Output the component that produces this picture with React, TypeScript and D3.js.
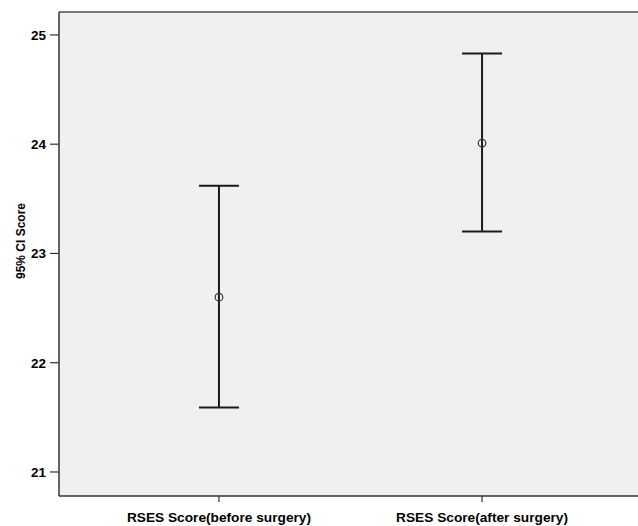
import React from "react";
import * as d3 from "d3";

const categories = ["RSES Score(before surgery)", "RSES Score(after surgery)"];
const means = [22.6, 24.01];
const upper = [23.62, 24.83];
const lower = [21.59, 23.2];
const yTicks = [21, 22, 23, 24, 25];

const sizing = { width: 638, height: 526, left: 59, top: 12, right: 642, bottom: 496 };

const tickStyle = {
  fontFamily: "Arial, 'Liberation Sans', sans-serif",
  fontSize: "13.5px",
  fontWeight: "bold" as const,
  fill: "#000",
};

function App() {
  const x = d3
    .scalePoint<string>()
    .domain(categories)
    .range([sizing.left, sizing.right])
    .padding(0.608);

  const y = d3
    .scaleLinear()
    .domain([20.78, 25.21])
    .range([sizing.bottom, sizing.top]);

  const capHalf = 20;

  const bars = categories.map((c, i) => {
    const cx = x(c) as number;
    return (
      <g key={`bar${i}`} stroke="#1a1a1a" fill="none">
        <line x1={cx} x2={cx} y1={y(upper[i])} y2={y(lower[i])} strokeWidth={2} />
        <line x1={cx - capHalf} x2={cx + capHalf} y1={y(upper[i])} y2={y(upper[i])} strokeWidth={2} />
        <line x1={cx - capHalf} x2={cx + capHalf} y1={y(lower[i])} y2={y(lower[i])} strokeWidth={2} />
        <circle cx={cx} cy={y(means[i])} r={3.8} fill="none" strokeWidth={1.2} stroke="#333" />
      </g>
    );
  });

  return (
    <svg
      width={sizing.width}
      height={sizing.height}
      style={{ position: "absolute", left: 0, top: 0 }}
    >
      <rect width={sizing.width} height={sizing.height} fill="#fff" />
      <rect
        x={sizing.left}
        y={sizing.top}
        width={sizing.right - sizing.left}
        height={sizing.bottom - sizing.top}
        fill="#f0f0f0"
      />
      {/* frame */}
      <line x1={sizing.left} x2={sizing.width} y1={sizing.top} y2={sizing.top} stroke="#777" strokeWidth={2} />
      <line x1={sizing.left} x2={sizing.width} y1={sizing.bottom} y2={sizing.bottom} stroke="#333" strokeWidth={1.5} />
      <line x1={sizing.left} x2={sizing.left} y1={sizing.top} y2={sizing.bottom} stroke="#333" strokeWidth={1.5} />

      {yTicks.map((t) => (
        <g key={`yt${t}`}>
          <line x1={sizing.left - 9} x2={sizing.left} y1={y(t)} y2={y(t)} stroke="#333" strokeWidth={1.2} />
          <text x={sizing.left - 13} y={y(t)} dy="0.36em" textAnchor="end" style={tickStyle}>
            {t}
          </text>
        </g>
      ))}

      {categories.map((c, i) => (
        <g key={`xt${i}`}>
          <line x1={x(c)} x2={x(c)} y1={sizing.bottom} y2={sizing.bottom + 6} stroke="#333" strokeWidth={1.2} />
          <text x={x(c)} y={522} textAnchor="middle" style={{ ...tickStyle, fontSize: "13.7px" }}>
            {c}
          </text>
        </g>
      ))}

      <text
        transform={`translate(25,241) rotate(-90)`}
        textAnchor="middle"
        style={{ ...tickStyle, fontSize: "12px" }}
      >
        95% CI Score
      </text>

      {bars}
    </svg>
  );
}

export default App;
